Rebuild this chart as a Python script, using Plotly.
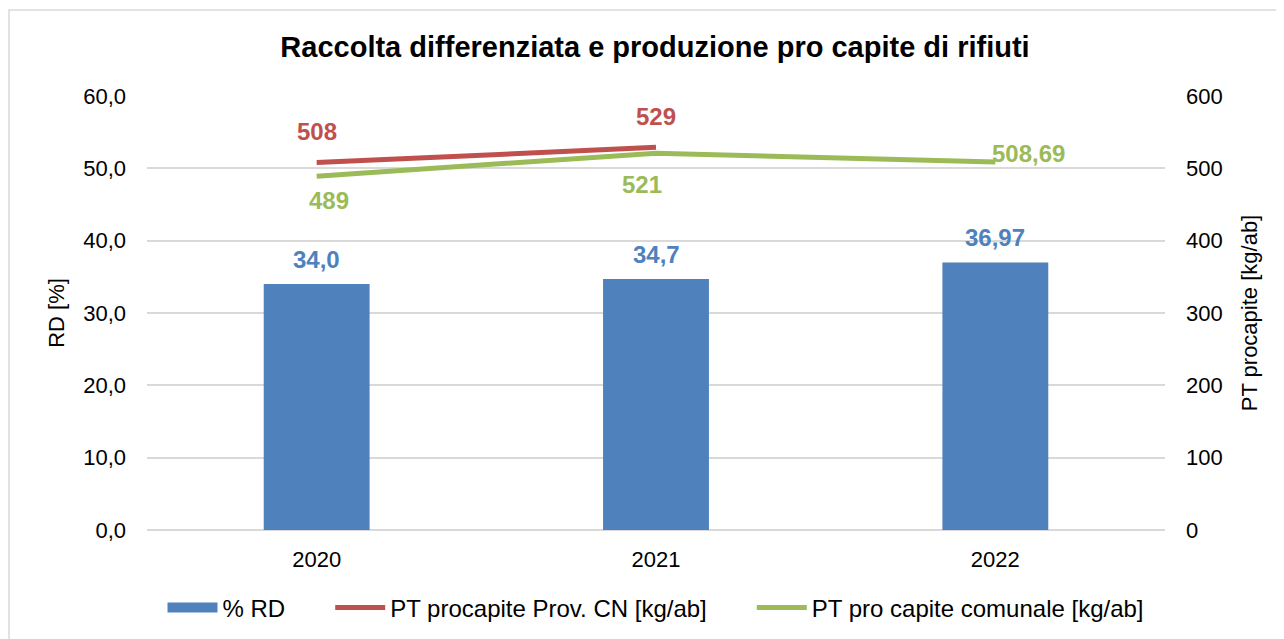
import plotly.graph_objects as go

years = ["2020", "2021", "2022"]
rd_pct = [34.0, 34.7, 36.97]
rd_labels = ["34,0", "34,7", "36,97"]
pt_prov = [508, 529, None]
pt_prov_labels = ["508", "529", ""]
pt_com = [489, 521, 508.69]
pt_com_labels = ["489", "521", "508,69"]

BLUE = "#4F81BD"
RED = "#C0504D"
GREEN = "#9BBB59"
FONT = "Liberation Sans, Arial, sans-serif"

OFF = 8  # default body margin of the html page
W, H = 1284 - OFF, 639 - OFF
ML, MR, MT, MB = 147 - OFF, 119, 96 - OFF, 109
PW, PH = W - ML - MR, H - MT - MB
NB = "\u00a0"

fig = go.Figure()
fig.add_trace(go.Bar(x=years, y=rd_pct, name="% RD", marker_color=BLUE,
                     marker_line_width=0, yaxis="y", showlegend=False))
# legend swatch for the bars (wide rectangle like the original)
fig.add_trace(go.Scatter(x=[None], y=[None], name="% RD" + NB * 6, mode="lines",
                         line=dict(color=BLUE, width=10), yaxis="y"))
fig.add_trace(go.Scatter(x=years, y=pt_prov, name="PT procapite Prov. CN [kg/ab]" + NB * 6,
                         mode="lines", line=dict(color=RED, width=5), yaxis="y2"))
fig.add_trace(go.Scatter(x=years, y=pt_com, name="PT pro capite comunale [kg/ab]",
                         mode="lines", line=dict(color=GREEN, width=5), yaxis="y2"))

ann = []
lab_font = dict(family=FONT, size=24)
# category axis: annotation positions use the category index
for i, y in enumerate(years):
    ann.append(dict(x=i, y=rd_pct[i], xref="x", yref="y", text="<b>%s</b>" % rd_labels[i],
                    showarrow=False, yshift=25, font=dict(color=BLUE, **lab_font)))
for i, y in enumerate(years):
    if pt_prov[i] is not None:
        ann.append(dict(x=i, y=pt_prov[i], xref="x", yref="y2", text="<b>%s</b>" % pt_prov_labels[i],
                        showarrow=False, yshift=31, font=dict(color=RED, **lab_font)))
com_shift = [(12, -24, "center"), (-14, -31, "center"), (-5, 9, "left")]
for i, y in enumerate(years):
    xs, ys, anc = com_shift[i]
    ann.append(dict(x=i, y=pt_com[i], xref="x", yref="y2", text="<b>%s</b>" % pt_com_labels[i],
                    showarrow=False, xshift=xs, yshift=ys, xanchor=anc,
                    font=dict(color=GREEN, **lab_font)))

fig.update_layout(
    width=W, height=H,
    margin=dict(l=ML, r=MR, t=MT, b=MB, autoexpand=False),
    paper_bgcolor="white", plot_bgcolor="white",
    separators=",.",
    font=dict(family=FONT, size=22, color="#000000"),
    title=dict(text="<b>Raccolta differenziata e produzione pro capite di rifiuti</b>",
               x=(655 - OFF) / W, xanchor="center", y=1 - (47 - OFF) / H, yanchor="middle",
               font=dict(family=FONT, size=29, color="#000000")),
    bargap=0.688,
    showlegend=True,
    legend=dict(orientation="h", x=0.5, xanchor="center", y=-(608 - 530) / PH, yanchor="middle",
                font=dict(family=FONT, size=24), traceorder="normal", itemwidth=50),
    xaxis=dict(type="category", categoryorder="array", categoryarray=years,
               range=[-0.5, len(years) - 0.5], showgrid=False, showline=False, ticks="",
               tickfont=dict(size=22), ticklabelstandoff=14),
    yaxis=dict(range=[0, 60], dtick=10, tickformat=".1f", showgrid=True,
               gridcolor="#D9D9D9", gridwidth=2, zeroline=True, zerolinecolor="#D9D9D9",
               zerolinewidth=2, ticks="", tickfont=dict(size=22),
               title=dict(text="RD [%]", font=dict(size=22), standoff=12),
               ticklabelstandoff=20),
    yaxis2=dict(range=[0, 600], dtick=100, overlaying="y", side="right", showgrid=False,
                zeroline=False, ticks="", tickfont=dict(size=22), tickformat="d",
                title=dict(text="PT procapite [kg/ab]", font=dict(size=22), standoff=19),
                ticklabelstandoff=20),
    annotations=ann,
    shapes=[dict(type="rect", xref="paper", yref="paper",
                 x0=(9 - OFF - ML) / PW, x1=(1320 - ML) / PW,
                 y0=(H - MB - 700) / PH, y1=(H - MB - (10 - OFF)) / PH,
                 line=dict(color="#D9D9D9", width=1.5), fillcolor="rgba(0,0,0,0)", layer="below")],
)

fig.write_html("out.html")
